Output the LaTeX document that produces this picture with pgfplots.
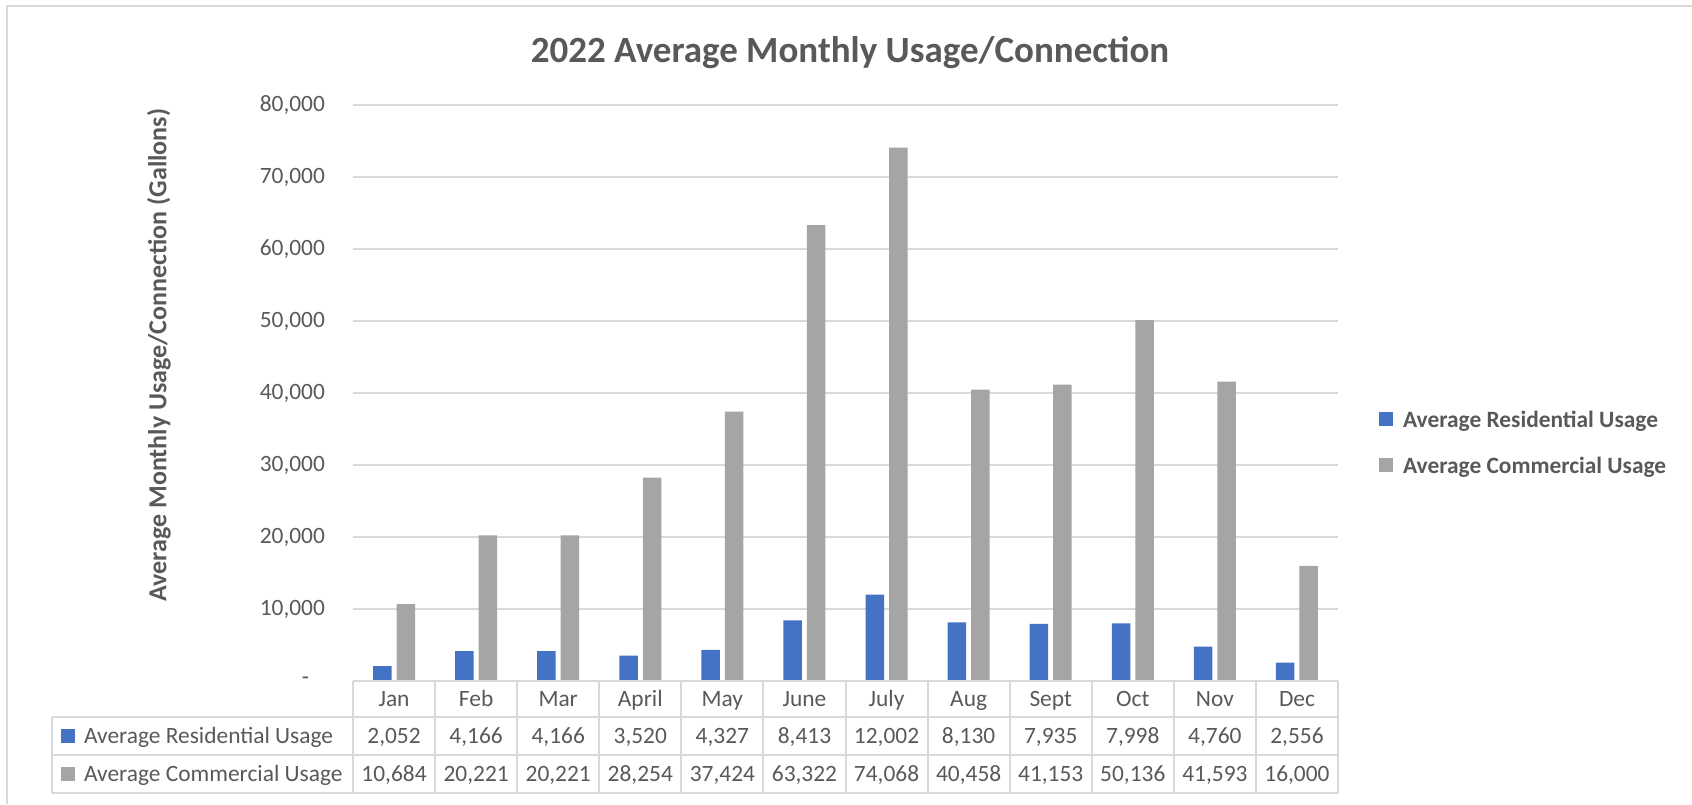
\documentclass[border=0pt]{standalone}
\usepackage{pgfplots}
\usepackage{pgfplotstable}
\pgfplotsset{compat=1.18}
\usepackage{fontspec}
\setmainfont{Carlito}

\definecolor{resblue}{HTML}{4472C4}
\definecolor{comgray}{HTML}{A5A5A5}
\definecolor{txt}{HTML}{595959}
\definecolor{gridc}{HTML}{D9D9D9}

\newcommand{\tabfont}{\fontsize{11.7}{14}\selectfont}

% monthly averages, gallons per connection
\pgfplotstableread{
idx month res com
0 Jan 2052 10684
1 Feb 4166 20221
2 Mar 4166 20221
3 April 3520 28254
4 May 4327 37424
5 June 8413 63322
6 July 12002 74068
7 Aug 8130 40458
8 Sept 7935 41153
9 Oct 7998 50136
10 Nov 4760 41593
11 Dec 2556 16000
}\usage

\begin{document}
\begin{tikzpicture}[x=0.5pt,y=-0.5pt]
\useasboundingbox (0,0) rectangle (1692,804);
\draw[gridc, line width=1pt] (7,804) -- (7,6) -- (1692,6);

\begin{axis}[
    at={(176.5pt,-340.5pt)}, anchor=south west,
    scale only axis, width=492.5pt, height=288pt,
    xmin=-0.5, xmax=11.5,
    ymin=0, ymax=80000,
    ytick={0,10000,20000,30000,40000,50000,60000,70000,80000},
    yticklabels={{-\kern8pt},{10,000},{20,000},{30,000},{40,000},{50,000},{60,000},{70,000},{80,000}},
    scaled y ticks=false,
    xtick=\empty,
    axis line style={draw=none},
    major tick style={draw=none},
    ymajorgrids,
    grid style={gridc, line width=1pt},
    yticklabel style={font=\tabfont, text=txt, xshift=-10.5pt},
    ybar, bar width=0.225,
]
\addplot[fill=resblue, draw=none, bar shift=-0.143] table[x=idx, y=res] {\usage};
\addplot[fill=comgray, draw=none, bar shift=0.143] table[x=idx, y=com] {\usage};
\end{axis}

% title and axis title
\node[anchor=base, text=txt, font=\fontsize{18.5}{22}\selectfont\bfseries] at (850,62) {2022 Average Monthly Usage/Connection};
\node[rotate=90, text=txt, font=\fontsize{13}{16}\selectfont\bfseries] at (159,355) {Average Monthly Usage/Connection (Gallons)};

% legend
\fill[resblue] (1379,412) rectangle (1393,426);
\node[anchor=base west, text=txt, font=\tabfont\bfseries] at (1396,427) {Average Residential Usage};
\fill[comgray] (1379,458) rectangle (1393,472);
\node[anchor=base west, text=txt, font=\tabfont\bfseries] at (1396,473) {Average Commercial Usage};

% data table
\begin{scope}[gridc, line width=1pt]
\foreach \k in {0,...,12} \draw ({353+\k*82.083},681) -- ({353+\k*82.083},793);
\draw (353,681) -- (1338,681);
\draw (52,717) -- (1338,717);
\draw (52,755) -- (1338,755);
\draw (52,793) -- (1338,793);
\draw (52,717) -- (52,793);
\end{scope}
\fill[resblue] (61,729) rectangle (75,743);
\node[anchor=base west, text=txt, font=\tabfont] at (77,743.5) {Average Residential Usage};
\fill[comgray] (61,767) rectangle (75,781);
\node[anchor=base west, text=txt, font=\tabfont] at (77,781.5) {Average Commercial Usage};

\foreach \i in {0,...,11}{
  \pgfplotstablegetelem{\i}{month}\of\usage
  \node[anchor=base, text=txt, font=\tabfont] at ({353+(\i+0.5)*82.083},706.5) {\pgfplotsretval};
  \pgfplotstablegetelem{\i}{res}\of\usage
  \node[anchor=base, text=txt, font=\tabfont] at ({353+(\i+0.5)*82.083},743.5) {\pgfmathprintnumber[assume math mode=true,1000 sep={,}]{\pgfplotsretval}};
  \pgfplotstablegetelem{\i}{com}\of\usage
  \node[anchor=base, text=txt, font=\tabfont] at ({353+(\i+0.5)*82.083},781.5) {\pgfmathprintnumber[assume math mode=true,1000 sep={,}]{\pgfplotsretval}};
}
\end{tikzpicture}
\end{document}
